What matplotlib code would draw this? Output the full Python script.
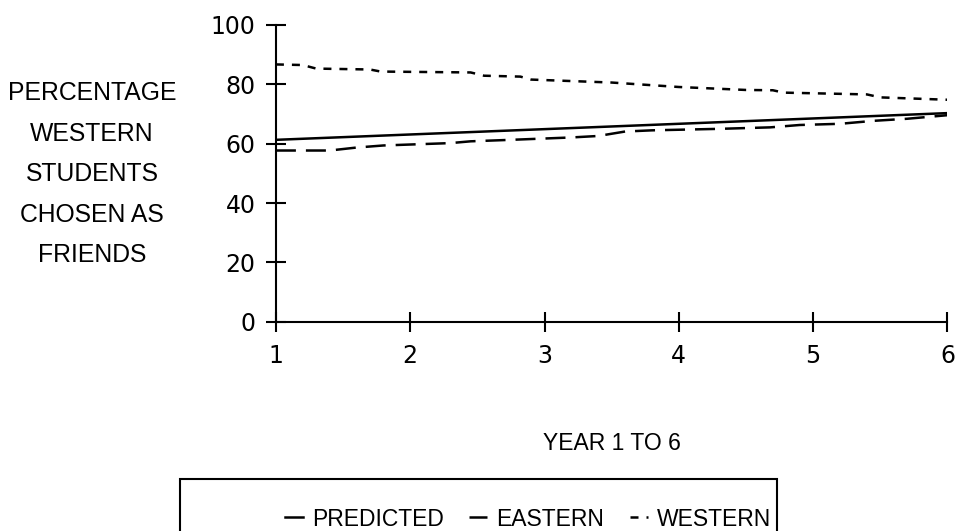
import numpy as np
import matplotlib
matplotlib.use("Agg")
import matplotlib.pyplot as plt
from matplotlib.patches import Rectangle

plt.rcParams['font.family'] = ['Liberation Sans', 'DejaVu Sans']

# data
years = [1, 2, 3, 4, 5, 6]
y_ticks = [0, 20, 40, 60, 80, 100]

predicted_x = [1.0, 6.0]
predicted_y = [61.3, 70.3]

eastern_x = [1.0, 1.4, 1.6, 1.8, 2.3, 2.45, 2.75, 3.2, 3.4, 3.6, 3.8,
             4.3, 4.68, 4.9, 5.2, 5.45, 5.7, 6.0]
eastern_y = [57.7, 57.7, 58.7, 59.4, 60.2, 60.8, 61.3, 62.1, 62.6, 64.1, 64.5,
             65.0, 65.5, 66.3, 66.7, 67.7, 68.4, 69.6]

western_x = [1.0, 1.2, 1.3, 1.7, 1.78, 2.45, 2.55, 2.82, 2.9, 3.5, 4.0,
             4.5, 4.7, 4.78, 5.4, 5.5, 6.0]
western_y = [86.7, 86.5, 85.3, 85.0, 84.3, 84.0, 82.9, 82.6, 81.6, 80.6, 79.1,
             78.1, 78.0, 77.2, 76.6, 75.6, 74.8]

fs = 16.5
lw = 1.5      # axes
line_w = 1.8  # data lines

fig = plt.figure(figsize=(9.58, 5.31), dpi=100)
ax = fig.add_axes([0.288, 0.394, 0.701, 0.559])

ax.plot(predicted_x, predicted_y, color='black', lw=line_w, label='PREDICTED')
ax.plot(eastern_x, eastern_y, color='black', lw=line_w, dashes=(8, 4), label='EASTERN')
ax.plot(western_x, western_y, color='black', lw=line_w, dashes=(3.2, 3.2), label='WESTERN')

ax.set_xlim(1, 6)
ax.set_ylim(0, 100)
ax.set_xticks(years)
ax.set_yticks(y_ticks)
for s in ['top', 'right']:
    ax.spines[s].set_visible(False)
for s in ['left', 'bottom']:
    ax.spines[s].set_linewidth(lw)
ax.tick_params(direction='inout', length=14.4, width=lw, labelsize=17)
ax.tick_params(axis='x', pad=9)
ax.tick_params(axis='y', pad=7.5)
for lab in ax.get_xticklabels() + ax.get_yticklabels():
    lab.set_fontfamily('DejaVu Sans')

ax.set_xlabel('YEAR 1 TO 6', fontsize=fs, labelpad=46)

fig.text(0.096, 0.672, 'PERCENTAGE\nWESTERN\nSTUDENTS\nCHOSEN AS\nFRIENDS',
         ha='center', va='center', multialignment='center', fontsize=17.8,
         linespacing=1.86)

# legend box at the bottom
fig.add_artist(Rectangle((180 / 958, -0.1), 597 / 958, 0.1 + 52 / 531,
                         transform=fig.transFigure, fill=False,
                         edgecolor='black', lw=lw))
ax.legend(loc='center', bbox_to_anchor=(528 / 958, 12 / 531),
          bbox_transform=fig.transFigure, ncol=3, frameon=False,
          fontsize=fs, handlelength=0.8, handletextpad=0.4,
          columnspacing=1.1, borderpad=0)

fig.savefig('out.png', dpi=100)
